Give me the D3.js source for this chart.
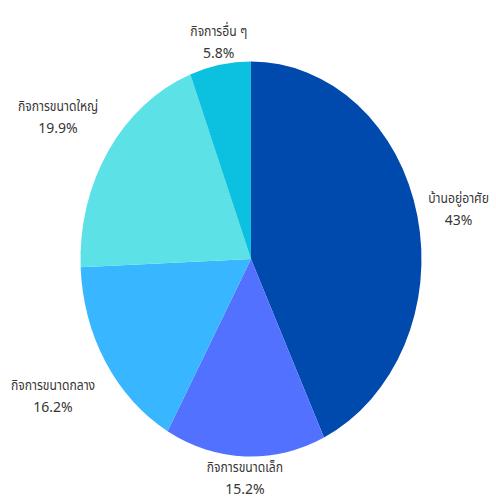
<!DOCTYPE html>
<html>
<head>
<meta charset="utf-8">
<script src="https://cdn.jsdelivr.net/npm/d3@7"></script>
<style>
  html, body { margin: 0; padding: 0; background: #ffffff; }
  svg { display: block; }
</style>
</head>
<body>
<svg id="chart" width="496" height="500"></svg>
<script>
const categories = ["บ้านอยู่อาศัย", "กิจการขนาดเล็ก", "กิจการขนาดกลาง", "กิจการขนาดใหญ่", "กิจการอื่น ๆ"];
const values = [43, 15.2, 16.2, 19.9, 5.8];
const valueLabels = ["43%", "15.2%", "16.2%", "19.9%", "5.8%"];
const colors = ["#004AAD", "#5271FF", "#38B6FF", "#5CE1E6", "#0CC0DF"];

const W = 496, H = 500;
const cx = 251, cy = 259;
const rx = 170.5, ry = 197.5;
const fontFamily = "Tahoma, 'Leelawadee UI', 'Noto Sans Thai', 'Noto Sans', 'DejaVu Sans', sans-serif";

const svg = d3.select("#chart");
const data = categories.map((c, i) => ({ cat: c, value: values[i], label: valueLabels[i], color: colors[i] }));

const pie = d3.pie().sort(null).value(d => d.value).startAngle(0).endAngle(2 * Math.PI);
const arcs = pie(data);
const arc = d3.arc().innerRadius(0).outerRadius(rx);

const g = svg.append("g").attr("transform", `translate(${cx},${cy}) scale(1,${ry / rx})`);
g.selectAll("path").data(arcs).enter().append("path")
  .attr("d", arc)
  .attr("fill", d => d.data.color);

// labels
const lineH = 22;
const fontSize = 14;
const thaiScale = 0.87;
const margin = 3;
const clamp = (v, lo, hi) => Math.max(lo, Math.min(hi, v));
const labelG = svg.append("g");
arcs.forEach(a => {
  const mid = (a.startAngle + a.endAngle) / 2;
  const s = Math.sin(mid), c = Math.cos(mid);
  const kx = 1.045;
  const ky = 1.0 + 0.15 * s * s;
  const ax = cx + s * rx * kx;
  const ay = cy - c * ry * ky;
  const grp = labelG.append("g");
  const t1 = grp.append("text").text(a.data.cat)
    .attr("font-family", fontFamily).attr("font-size", fontSize).attr("fill", "#363636")
    .attr("text-anchor", "middle");
  const t2 = grp.append("text").text(a.data.label)
    .attr("font-family", fontFamily).attr("font-size", fontSize).attr("fill", "#363636")
    .attr("text-anchor", "middle");
  const w = Math.max(t1.node().getComputedTextLength() * thaiScale, t2.node().getComputedTextLength()) + 8;
  const h = lineH * 2;
  let bx = ax, by = ay;
  if (s > 0.3) bx = ax + w / 2; else if (s < -0.3) bx = ax - w / 2;
  if (c > 0.3) by = ay - h / 2; else if (c < -0.3) by = ay + h / 2;
  bx = clamp(bx, margin + w / 2, W - margin - w / 2);
  by = clamp(by, margin + h / 2, H - h / 2 + 2);
  t1.attr("transform", `translate(${bx},${by - lineH / 2}) scale(${thaiScale},1)`).attr("dy", "0.35em");
  t2.attr("x", bx).attr("y", by + lineH / 2).attr("dy", "0.35em");
});
</script>
</body>
</html>
